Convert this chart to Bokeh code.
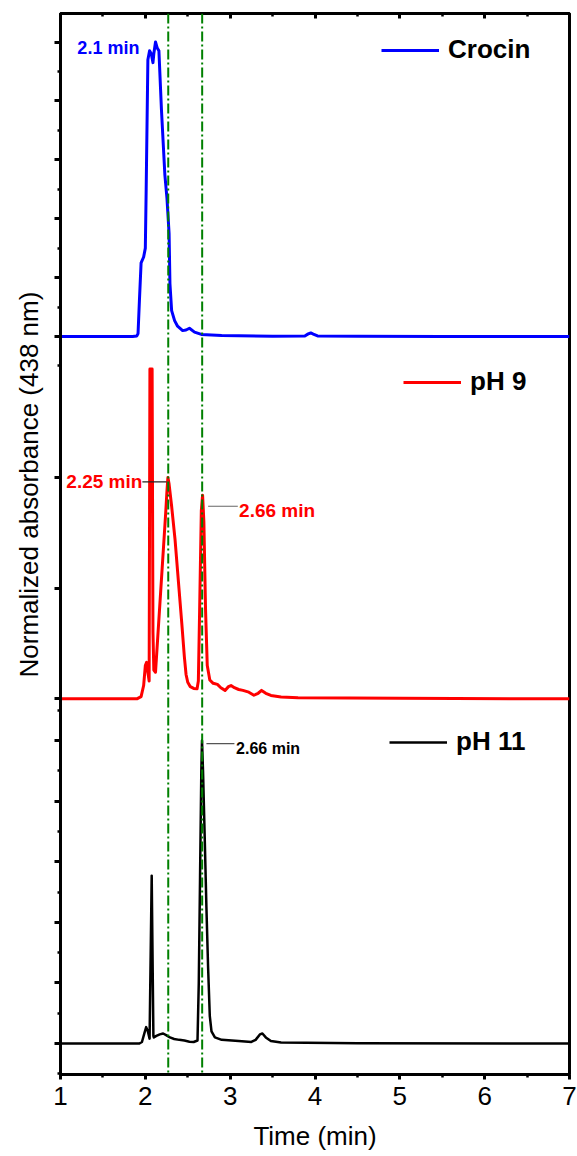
from bokeh.plotting import figure
from bokeh.models import (Range1d, LinearAxis, FixedTicker, CustomJSTickFormatter,
                          Span, Label, Legend, LegendItem, Title)
from bokeh.embed import file_html
from bokeh.resources import INLINE

# ---------------- data ----------------
crocin_t = [1.00, 1.85, 1.90, 1.914, 1.93, 1.95, 1.98, 2.00, 2.01, 2.03, 2.05, 2.07, 2.09,
            2.10, 2.12, 2.14, 2.16, 2.19, 2.23, 2.255, 2.28, 2.29, 2.31, 2.345, 2.38, 2.44,
            2.48, 2.52, 2.58, 2.66, 2.90, 3.50, 3.88, 3.92, 3.95, 3.98, 4.03, 4.50, 5.50, 7.00]
crocin_v = [0.000, 0.000, 0.002, 0.010, 0.120, 0.250, 0.270, 0.300, 0.500, 0.940, 0.970, 0.960, 0.930,
            0.960, 1.000, 0.980, 0.970, 0.770, 0.550, 0.470, 0.350, 0.180, 0.088, 0.054, 0.035, 0.020,
            0.022, 0.028, 0.015, 0.007, 0.003, 0.001, 0.002, 0.009, 0.012, 0.008, 0.002, 0.001, 0.000, 0.000]

ph9_t = [1.00, 1.90, 1.95, 1.98, 2.00, 2.015, 2.03, 2.045, 2.054, 2.080, 2.090, 2.10, 2.12,
         2.15, 2.18, 2.21, 2.24, 2.255, 2.266, 2.28, 2.31, 2.35, 2.39, 2.43, 2.46, 2.48, 2.50,
         2.53, 2.57, 2.61, 2.625, 2.64, 2.66, 2.675, 2.69, 2.71, 2.73, 2.76, 2.80, 2.85, 2.89,
         2.94, 2.98, 3.01, 3.05, 3.10, 3.15, 3.22, 3.28, 3.33, 3.37, 3.42, 3.48, 3.60, 3.80,
         5.00, 7.00]
ph9_v = [0.000, 0.000, 0.010, 0.060, 0.150, 0.165, 0.120, 0.080, 1.490, 1.490, 0.300, 0.130, 0.120,
         0.300, 0.480, 0.660, 0.840, 0.940, 1.000, 0.970, 0.870, 0.720, 0.530, 0.340, 0.190, 0.110, 0.075,
         0.055, 0.047, 0.045, 0.080, 0.400, 0.850, 0.920, 0.800, 0.400, 0.150, 0.085, 0.070, 0.065, 0.050,
         0.038, 0.055, 0.060, 0.050, 0.042, 0.038, 0.030, 0.016, 0.025, 0.038, 0.025, 0.015, 0.008, 0.005,
         0.002, 0.000]

ph11_t = [1.00, 1.93, 1.96, 1.99, 2.01, 2.03, 2.05, 2.075, 2.095, 2.10, 2.13, 2.17, 2.21, 2.25,
          2.29, 2.34, 2.40, 2.46, 2.52, 2.57, 2.615, 2.63, 2.645, 2.66, 2.668, 2.68, 2.70, 2.72,
          2.74, 2.76, 2.78, 2.82, 2.90, 3.10, 3.25, 3.30, 3.35, 3.38, 3.42, 3.48, 3.60, 4.50, 7.00]
ph11_v = [0.000, 0.000, 0.005, 0.035, 0.054, 0.040, 0.016, 0.554, 0.025, 0.020, 0.025, 0.030, 0.033, 0.027,
          0.020, 0.015, 0.012, 0.010, 0.006, 0.005, 0.010, 0.200, 0.550, 0.900, 1.000, 0.900, 0.680, 0.450,
          0.250, 0.090, 0.040, 0.020, 0.012, 0.008, 0.005, 0.012, 0.030, 0.033, 0.020, 0.008, 0.003, 0.001, 0.000]

series_names = ["Crocin", "pH 9", "pH 11"]
series_colors = ["#0000FF", "#FF0000", "#000000"]

x_major = [1, 2, 3, 4, 5, 6, 7]
x_minor = [1.5, 2.5, 3.5, 4.5, 5.5, 6.5]
marker_times = [2.27, 2.67]          # dash-dot reference lines

# panel y tick values (normalized absorbance)
p1_major = [0.0, 0.2, 0.4, 0.6, 0.8, 1.0]
p1_minor = [-0.1, 0.1, 0.3, 0.5, 0.7, 0.9]
p2_major = [0.0, 0.5, 1.0]
p2_minor = []
p3_major = [0.0, 0.2, 0.4, 0.6, 0.8, 1.0]
p3_minor = [-0.1, 0.1, 0.3, 0.5, 0.7, 0.9, 1.1]

# ---------------- layout ----------------
FONT = "Liberation Sans"
W, H = 577, 1156
BL, BR, BT, BB = 59, 8, 13, 82
FH = H - BT - BB          # frame height in px

# each panel: (baseline px from frame bottom, px per unit)
panels = {"crocin": (738.0, 294.5), "ph9": (375.7, 221.3), "ph11": (31.0, 303.0)}

p = figure(width=W, height=H, output_backend="svg", toolbar_location=None,
           x_range=Range1d(1, 7), y_range=Range1d(0, FH),
           min_border_left=BL, min_border_right=BR, min_border_top=BT, min_border_bottom=BB,
           x_axis_location=None, y_axis_location=None)
p.grid.visible = False
p.outline_line_color = "black"
p.outline_line_width = 3
p.background_fill_color = "white"
p.border_fill_color = "white"

for name, (base, scale) in panels.items():
    p.extra_y_ranges[name] = Range1d(-base / scale, (FH - base) / scale)

empty = CustomJSTickFormatter(code="return ''")

def style_axis(ax):
    ax.axis_line_width = 3
    ax.axis_line_color = "black"
    ax.major_tick_line_width = 3
    ax.minor_tick_line_width = 2.5
    ax.major_tick_line_color = "black"
    ax.minor_tick_line_color = "black"

# bottom axis
bottom = LinearAxis(ticker=FixedTicker(ticks=x_major, minor_ticks=x_minor), axis_label="Time (min)")
style_axis(bottom)
bottom.major_tick_in = 0
bottom.major_tick_out = 5
bottom.minor_tick_in = 0
bottom.minor_tick_out = 3
bottom.major_label_text_font = FONT
bottom.major_label_text_font_size = "26px"
bottom.major_label_text_color = "black"
bottom.major_label_standoff = 7
bottom.axis_label_text_font = FONT
bottom.axis_label_text_font_size = "26px"
bottom.axis_label_text_font_style = "normal"
bottom.axis_label_text_color = "black"
bottom.axis_label_standoff = 13
p.add_layout(bottom, "below")

# top axis (ticks inward, no labels)
top = LinearAxis(ticker=FixedTicker(ticks=x_major, minor_ticks=x_minor), formatter=empty)
style_axis(top)
top.major_tick_in = 5
top.major_tick_out = 0
top.minor_tick_in = 3
top.minor_tick_out = 0
top.major_label_standoff = 0
p.add_layout(top, "above")

# left axis with per-panel ticks
def to_px(panel, vals):
    base, scale = panels[panel]
    return [base + v * scale for v in vals]

left_major = to_px("crocin", p1_major) + to_px("ph9", p2_major) + to_px("ph11", p3_major)
left_minor = to_px("crocin", p1_minor) + to_px("ph9", p2_minor) + to_px("ph11", p3_minor)
left = LinearAxis(ticker=FixedTicker(ticks=left_major, minor_ticks=left_minor), formatter=empty)
style_axis(left)
left.major_tick_in = 0
left.major_tick_out = 6
left.minor_tick_in = 0
left.minor_tick_out = 3
left.major_label_standoff = 0
p.add_layout(left, "left")

# y label as a left-side title, starting at the "N" near y=675 px
ylab = Title(text="Normalized absorbance (438 nm)", align="left", offset=1074 - 677,
             text_font=FONT, text_font_size="26px", text_font_style="normal",
             text_color="black", standoff=22)
p.add_layout(ylab, "left")

# reference lines
for t in marker_times:
    p.add_layout(Span(location=t, dimension="height", line_color="#008000",
                      line_dash="10 3 2 3", line_width=2))

# curves
data = [(crocin_t, crocin_v, "crocin", 3), (ph9_t, ph9_v, "ph9", 3), (ph11_t, ph11_v, "ph11", 2.5)]
renderers = []
for (t, v, rng, lw), col in zip(data, series_colors):
    r = p.line(t, v, line_color=col, line_width=lw, y_range_name=rng, line_join="round")
    renderers.append(r)

# legends (one per panel)
legend_loc = [(321, 1009), (343, 677), (329, 317)]
for name, r, loc in zip(series_names, renderers, legend_loc):
    lg = Legend(items=[LegendItem(label=name, renderers=[r])], location=loc,
                label_text_font=FONT, label_text_font_size="26px", label_text_font_style="bold",
                label_text_color="black", glyph_width=58, glyph_height=30, label_height=30,
                label_standoff=9, padding=0, margin=0, spacing=0,
                border_line_color=None, background_fill_alpha=0)
    p.add_layout(lg)

# peak annotations: text, panel, colour, font size, anchor t, y value, align, leader (t0, t1, y)
annotations = [
    ("2.1 min", "crocin", "#0000FF", "18px", 1.93, 0.98, "right", None),
    ("2.25 min", "ph9", "#FF0000", "19px", 1.965, 0.98, "right", (1.965, 2.25, 0.98, "#222222")),
    ("2.66 min", "ph9", "#FF0000", "19px", 3.105, 0.85, "left", (2.74, 3.09, 0.87, "#666666")),
    ("2.66 min", "ph11", "#000000", "16px", 3.07, 0.975, "left", (2.72, 3.05, 0.99, "#555555")),
]
for text, rng, col, fs, tx, ty, align, leader in annotations:
    p.add_layout(Label(x=tx, y=ty, y_range_name=rng, text=text, text_color=col,
                       text_font=FONT, text_font_size=fs, text_font_style="bold",
                       text_align=align, text_baseline="middle"))
    if leader is not None:
        x0, x1, yl, lc = leader
        p.segment(x0=[x0], y0=[yl], x1=[x1], y1=[yl], line_color=lc, line_width=1.2,
                  y_range_name=rng)

open("out.html", "w").write(file_html(p, INLINE))
